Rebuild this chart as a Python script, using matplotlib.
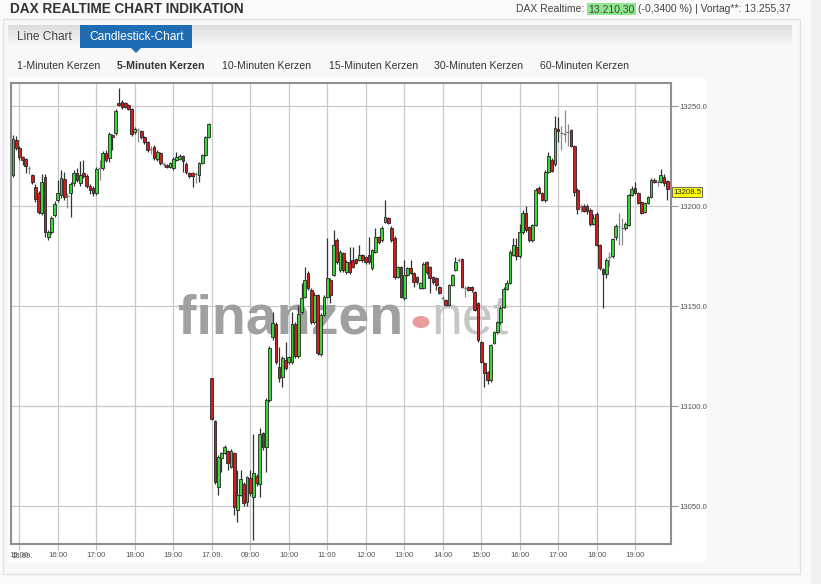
import numpy as np
import matplotlib.pyplot as plt
from matplotlib.patches import Rectangle, Polygon, Circle
from matplotlib.colors import LinearSegmentedColormap
from matplotlib.transforms import blended_transform_factory

plt.rcParams['font.family'] = ['Liberation Sans', 'DejaVu Sans']

W, H = 821, 584

# --- data: 5 minute candles, 16.09. 14:50 - 19:55 and 17.09. 08:00 - 19:50 ---
day1_open = [13215.5, 13233, 13229, 13224.5, 13223.5, 13219, 13215.5, 13209.5, 13206.5, 13196.5,
             13214.5, 13184.5, 13187, 13195.5, 13203, 13205.5, 13213.5, 13205.5, 13206.5, 13211.5,
             13216.5, 13211.5, 13216.5, 13215, 13210, 13209, 13206.5, 13218.5, 13219, 13226.5,
             13224, 13235.5, 13236.5, 13251.5, 13252, 13251.5, 13250.5, 13248.5, 13237, 13238,
             13237.5, 13234.5, 13232, 13229, 13229.5, 13223.5, 13226.5, 13221, 13220.5, 13219.5,
             13219, 13223, 13223.5, 13225, 13221, 13216.5, 13216.5, 13216, 13215.5, 13221.5,
             13225.5, 13234.5]
day1_high = [13235.5, 13235, 13230, 13225, 13224, 13220, 13216, 13211, 13207.5, 13216,
             13216, 13188, 13195, 13202.5, 13213, 13218, 13217, 13206.5, 13212, 13218,
             13219, 13222.5, 13223, 13216, 13211, 13210, 13219.5, 13223, 13227.5, 13228,
             13237, 13236, 13248.5, 13259, 13253, 13252, 13251, 13249, 13239.5, 13239,
             13238, 13235, 13232.5, 13230, 13230.5, 13228, 13227, 13222, 13221, 13222,
             13224.5, 13227, 13226, 13225.5, 13222, 13217, 13217, 13217, 13222, 13226,
             13235, 13241.5]
day1_low = [13214.5, 13228, 13223, 13220.5, 13216.5, 13216, 13211, 13202, 13196, 13195.5,
            13184.5, 13183, 13186, 13194.5, 13202, 13204, 13203, 13199, 13194.5, 13210,
            13212, 13210, 13214, 13209, 13206, 13205, 13205.5, 13213, 13218, 13222,
            13222, 13228, 13235.5, 13250, 13248.5, 13249, 13248, 13235, 13236, 13232,
            13233.5, 13231, 13227, 13226, 13223, 13222.5, 13220.5, 13219.5, 13219, 13219,
            13218, 13222.5, 13223, 13217, 13216, 13214, 13209.5, 13211.5, 13212, 13221,
            13225, 13234]
day1_close = [13233.5, 13229, 13224.5, 13223, 13220, 13219.2, 13212, 13203.5, 13197, 13212,
              13187, 13187, 13194, 13201, 13206.5, 13214, 13204.5, 13205.2, 13211, 13216.5,
              13213, 13215.5, 13215, 13210, 13208, 13206.5, 13218.5, 13219, 13226.5, 13223,
              13236, 13234.5, 13247.5, 13250.5, 13249.5, 13249.5, 13248.5, 13236, 13238.5, 13238.2,
              13234.5, 13232, 13228, 13228.5, 13224, 13227, 13221.5, 13221.2, 13219.5, 13221.5,
              13223.5, 13224.5, 13225, 13222.5, 13217, 13215, 13215, 13216.2, 13221.5, 13225.5,
              13234.5, 13241]

day2_open = [13114, 13092.5, 13059.5, 13074, 13076.5, 13077.5, 13069.5, 13076.5, 13048, 13055.5,
             13061, 13052, 13064, 13054.5, 13065, 13061, 13086.5, 13079.5, 13103,
             13134.5, 13141, 13119.5, 13114.5, 13123, 13122, 13122, 13141, 13125, 13147,
             13154.5, 13166.5, 13158, 13142, 13155.5, 13126, 13145.5, 13154.5, 13163, 13165.5,
             13183, 13168, 13176.5,
             13167, 13172, 13173, 13173.5, 13173, 13175.5, 13174.5, 13175.5, 13169, 13177,
             13184.5, 13183, 13192, 13194, 13189, 13184, 13164.5, 13169.5, 13154, 13165.5,
             13169, 13166.5, 13164.5, 13159, 13159, 13172, 13169.5, 13164.5, 13164, 13159.5,
             13154, 13153, 13150.5, 13160.5, 13168, 13173, 13173.5, 13159.5, 13159.5, 13159.5,
             13157, 13151.5, 13132, 13121.5, 13117, 13113, 13131.5, 13137,
             13142, 13149.5, 13158.5, 13161.5, 13175.5, 13179.5, 13175, 13187, 13196.5, 13189.5,
             13183, 13190.5, 13209, 13206.5, 13203, 13217, 13223, 13221, 13238.5, 13236,
             13236, 13237, 13238, 13230, 13208, 13199.5, 13200, 13200, 13198, 13191,
             13196, 13180.5, 13168.5, 13166, 13174.5, 13175, 13184.5, 13190, 13189, 13189,
             13190.5, 13205.5, 13209, 13206.5, 13202, 13197, 13201.5, 13204.5, 13213, 13212.5,
             13212, 13214.5, 13212.5]
day2_high = [13114, 13093, 13075.5, 13077, 13080.5, 13078, 13078.5, 13077, 13068, 13068,
             13062, 13065, 13068, 13086, 13066, 13089, 13087, 13104, 13130,
             13147, 13142, 13129.5, 13125, 13132, 13125, 13147, 13142, 13150.5, 13161.5,
             13169.5, 13167.5, 13159, 13157, 13156, 13146.5, 13155.5, 13184, 13164, 13188,
             13184, 13178, 13177,
             13173, 13179.5, 13179.5, 13174, 13180.5, 13176, 13175, 13184.5, 13178.5, 13189,
             13185, 13190, 13203, 13194.5, 13190, 13185, 13170, 13170, 13173, 13169.5,
             13173, 13167, 13165, 13162, 13172, 13172.5, 13170, 13165, 13164.5, 13160,
             13155, 13153.5, 13161, 13166, 13174.5, 13174, 13174, 13160, 13160, 13160,
             13157.5, 13152, 13132.5, 13122, 13117.5, 13131, 13137.5, 13142.5,
             13150, 13159.5, 13163, 13178, 13184, 13184, 13191, 13198, 13200, 13190,
             13191, 13209, 13210, 13207, 13218, 13227, 13224, 13245, 13244.5, 13240,
             13248, 13241, 13238.5, 13230.5, 13209, 13201, 13201, 13201, 13199, 13196,
             13197, 13181, 13169, 13174, 13177, 13184, 13191, 13196.5, 13194, 13192,
             13206, 13210, 13212, 13207, 13202.5, 13202, 13205, 13214, 13214, 13213,
             13218.5, 13216, 13213]
day2_low = [13093, 13061, 13055.5, 13067, 13076, 13068, 13069, 13045.5, 13042, 13055,
            13050, 13050, 13055, 13033, 13060, 13054.5, 13078, 13067, 13102,
            13133, 13121, 13112, 13109.5, 13118, 13121, 13121, 13124, 13124, 13146,
            13154, 13158, 13141, 13141, 13125.5, 13125, 13145, 13154, 13151.5, 13165,
            13171, 13167, 13167,
            13166, 13166, 13169, 13171, 13172.5, 13172, 13171, 13171, 13168, 13176.5,
            13181, 13182, 13191.5, 13191, 13182, 13163.5, 13164, 13154, 13153, 13165,
            13166, 13159.5, 13161, 13158.5, 13158.5, 13166, 13156.5, 13161, 13158, 13156,
            13153, 13150, 13150, 13160, 13167.5, 13172, 13159, 13154.5, 13157.5, 13157,
            13147.5, 13132, 13121.5, 13109.5, 13111, 13112, 13131, 13136,
            13141, 13149, 13158, 13161, 13175, 13173, 13174, 13186, 13187, 13182,
            13182, 13190, 13206, 13202.5, 13202, 13216.5, 13217, 13220, 13232, 13228,
            13232, 13230, 13229.5, 13205, 13196, 13197, 13197, 13196, 13190, 13190.5,
            13180, 13168, 13149, 13164, 13170, 13174, 13183, 13180.5, 13180.5, 13188,
            13190, 13205, 13206, 13201, 13196, 13196.5, 13201, 13204, 13211.5, 13210,
            13211.5, 13210, 13203]
day2_close = [13093.5, 13062, 13074.5, 13076.5, 13079.5, 13071.5, 13077.5, 13049.5, 13055.5, 13063.5,
              13051.5, 13064.5, 13056.5, 13066.5, 13061.5, 13086, 13079.5, 13103, 13129,
              13141.5, 13122, 13114, 13124, 13119, 13124.5, 13141, 13125, 13146, 13154,
              13163, 13159, 13142, 13155.5, 13126.5, 13145.5, 13154.5, 13164, 13155.5, 13180.5,
              13172, 13177, 13168,
              13172, 13167, 13169.5, 13171.5, 13175.5, 13173, 13172, 13172, 13178, 13184.5,
              13182, 13189, 13194.5, 13191.5, 13183, 13164.5, 13169.5, 13154.5, 13165.5, 13169,
              13166.5, 13162, 13162, 13161.5, 13171, 13167, 13164, 13162, 13160.5, 13156.5,
              13154.2, 13150.5, 13160.5, 13165.5, 13172, 13173.2, 13159.5, 13159, 13158, 13158,
              13148, 13133, 13122, 13116.5, 13113, 13130.5, 13137, 13142,
              13149, 13158.5, 13161.5, 13177, 13180.5, 13175, 13187, 13196.5, 13188, 13183,
              13190.5, 13208, 13206.5, 13203, 13217, 13225, 13217.5, 13239, 13237.5, 13236.5,
              13236.2, 13237.2, 13230, 13207, 13198.5, 13199.7, 13197.5, 13197.5, 13191, 13194,
              13180.5, 13169, 13166, 13173, 13174.7, 13183.5, 13190, 13190.2, 13189.2, 13191,
              13205.5, 13208.5, 13206.5, 13201.5, 13196.5, 13201.5, 13204.5, 13213, 13212, 13212,
              13215.5, 13211.5, 13208.5]

tick_pos = [0, 12, 24, 36, 48, 60, 72, 84, 96, 108, 120, 132, 144, 156, 168, 180, 192]
tick_labels = ["15:00", "16:00", "17:00", "18:00", "19:00", "17.09.", "09:00", "10:00",
               "11:00", "12:00", "13:00", "14:00", "15:00", "16:00", "17:00", "18:00", "19:00"]
y_ticks = [13050, 13100, 13150, 13200, 13250]
last_price = 13208.5

tabs = ["1-Minuten Kerzen", "5-Minuten Kerzen", "10-Minuten Kerzen",
        "15-Minuten Kerzen", "30-Minuten Kerzen", "60-Minuten Kerzen"]
tab_x = [17, 117, 222, 329, 434, 540]

# --- prepare ---
o = np.array(day1_open + day2_open)
h = np.array(day1_high + day2_high)
l = np.array(day1_low + day2_low)
c = np.array(day1_close + day2_close)
x = np.arange(-2, -2 + len(o))

up = c - o >= 0.6
down = o - c >= 0.6
flat = ~(up | down)

# --- figure ---
fig = plt.figure(figsize=(W / 100, H / 100), dpi=100, facecolor='white')


def fx(px):
    return px / W


def fy(py):
    return 1 - py / H


def box(x0, y0, x1, y1, **kw):
    fig.add_artist(Rectangle((fx(x0), fy(y1)), fx(x1) - fx(x0), fy(y0) - fy(y1),
                             transform=fig.transFigure, **kw))


# page frame and panels
box(0, 0, W, H, facecolor='#fafafa', edgecolor='none', zorder=-10)
box(3, 19, 800, 574, facecolor='#f8f8f8', edgecolor='#e2e2e2', lw=1, zorder=-9)
box(811, 0, 821, 584, facecolor='#efefef', edgecolor='none', zorder=-9)
box(8, 78, 706, 562, facecolor='white', edgecolor='none', zorder=-8)

# tab bar with gradient
ax_bar = fig.add_axes([fx(8), fy(48), fx(791) - fx(8), 23 / H])
grad = np.linspace(0, 1, 50).reshape(-1, 1)
cmap = LinearSegmentedColormap.from_list('bar', ['#dcdcdc', '#fbfbfb'])
ax_bar.imshow(grad, aspect='auto', cmap=cmap)
ax_bar.axis('off')

box(80, 25, 192, 48, facecolor='#1f6cb2', edgecolor='none', zorder=2)
fig.add_artist(Polygon([(fx(131), fy(48)), (fx(141), fy(48)), (fx(136), fy(53))],
                       closed=True, transform=fig.transFigure,
                       facecolor='#1f6cb2', edgecolor='none', zorder=2))

fig.text(fx(17), fy(37), "Line Chart", fontsize=8.6, color='#444444', va='center', zorder=3)
fig.text(fx(89), fy(37), "Candlestick-Chart", fontsize=8.6, color='white', va='center', zorder=3)

for name, tx in zip(tabs, tab_x):
    fig.text(fx(tx), fy(66), name, fontsize=7.6, color='#333333', va='center',
             fontweight='bold' if name.startswith("5-") else 'normal')

# header
fig.text(fx(10), fy(9), "DAX REALTIME CHART INDIKATION", fontsize=9.8,
         fontweight='bold', color='#333333', va='center')

r = fig.canvas.get_renderer()
t3 = fig.text(fx(791), fy(9), "(-0,3400 %) | Vortag**: 13.255,37", fontsize=7.5,
              color='#444444', ha='right', va='center')
bb3 = t3.get_window_extent(r)
t2 = fig.text((bb3.x0 - 4) / W, fy(9), "13.210,30", fontsize=7.5, color='#444444',
              ha='right', va='center',
              bbox=dict(boxstyle='square,pad=0.12', facecolor='#8ee68e', edgecolor='none'))
bb2 = t2.get_window_extent(r)
fig.text((bb2.x0 - 4) / W, fy(9), "DAX Realtime:", fontsize=7.5, color='#444444',
         ha='right', va='center')

# --- main chart ---
ax = fig.add_axes([fx(11), fy(544), fx(671) - fx(11), (544 - 83) / H])
ax.set_facecolor('white')

wick_col = np.where(flat, '#888888', '#333333')
ax.vlines(x, l, h, colors=wick_col, lw=0.9, zorder=3)
ax.bar(x[up], (c - o)[up], bottom=o[up], width=0.86, color='#3cd63c',
       edgecolor='#262626', linewidth=0.6, zorder=4)
ax.bar(x[down], (o - c)[down], bottom=c[down], width=0.86, color='#d01e1e',
       edgecolor='#262626', linewidth=0.6, zorder=4)
ax.hlines(c[flat], x[flat] - 0.45, x[flat] + 0.45, colors='#777777', lw=1.0, zorder=4)

ax.set_xlim(-2.6, 203.2)
ax.set_ylim(13031, 13261.5)

ax.set_xticks(tick_pos)
ax.set_xticklabels(tick_labels)
ax.yaxis.tick_right()
ax.set_yticks(y_ticks)
ax.set_yticklabels([f"{v:.1f}" for v in y_ticks])

ax.tick_params(axis='x', length=4, color='#bbbbbb', labelsize=5.6,
               labelcolor='#555555', pad=2)
ax.tick_params(axis='y', length=5, color='#999999', labelsize=5.6,
               labelcolor='#555555', pad=1)
ax.grid(True, color='#c8c8c8', lw=0.9, zorder=0)
ax.set_axisbelow(True)
for sp in ax.spines.values():
    sp.set_color('#8f8f8f')
    sp.set_linewidth(1.5)

# day label of the first session, drawn over the first time label as in the source
ax.text(-2.5, -0.0185, "16.09.", transform=blended_transform_factory(ax.transData, ax.transAxes),
        fontsize=5.6, color='#555555', ha='left', va='top')

# last price marker
ax.text(1.003, last_price - 1.5, f"{last_price:.1f}",
        transform=blended_transform_factory(ax.transAxes, ax.transData),
        fontsize=5.6, color='#222222', ha='left', va='center', clip_on=False, zorder=6,
        bbox=dict(boxstyle='square,pad=0.15', facecolor='#ffff00', edgecolor='#555555', lw=0.6))

# watermark
ax.text(fx(178), fy(333), "finanzen", transform=fig.transFigure, fontsize=40,
        fontweight='bold', color='#a0a0a0', ha='left', va='baseline', zorder=2)
ax.text(fx(431), fy(333), "net", transform=fig.transFigure, fontsize=40,
        color='#c6c6c6', ha='left', va='baseline', zorder=2)
ax.add_patch(Circle((fx(421), fy(322)), 8.5 / W, transform=fig.transFigure,
                    facecolor='#ea9c9c', edgecolor='none', zorder=2))

fig.savefig("out.png", dpi=100)
